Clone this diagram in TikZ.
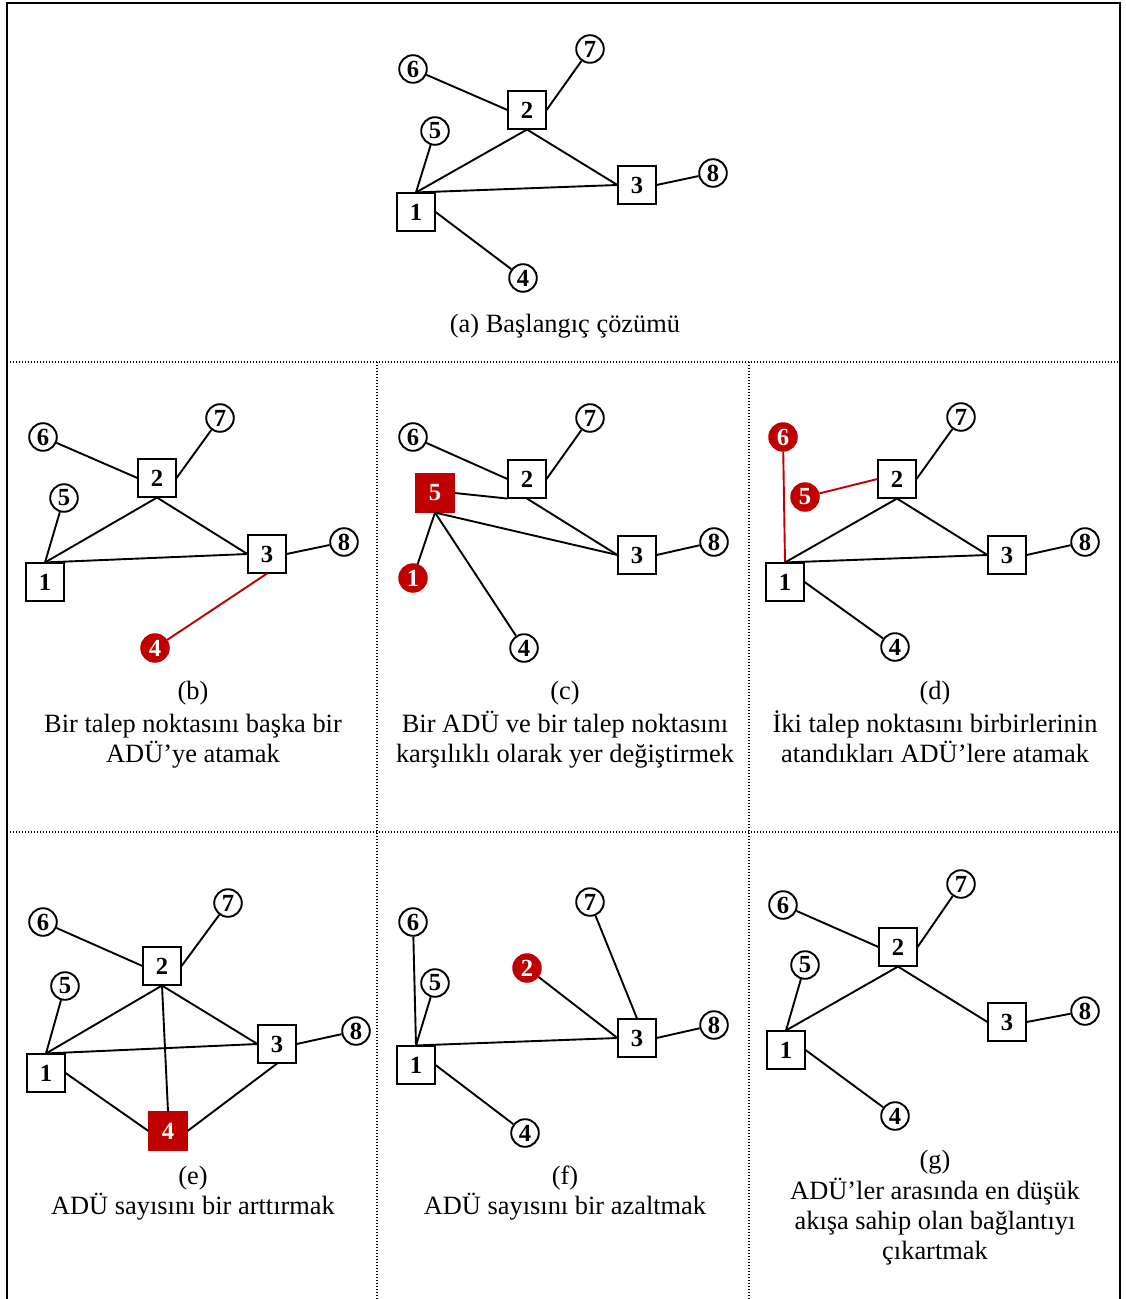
\documentclass[tikz,border=0pt]{standalone}
\usepackage{fontspec}
\setmainfont{Liberation Serif}
\definecolor{adured}{HTML}{C00000}
\begin{document}
\begin{tikzpicture}[x=0.5pt,y=-0.5pt,
  numfont/.style={font=\fontsize{12.3pt}{14pt}\selectfont\bfseries},
  dn/.style={circle, draw, line width=0.95pt, fill=white, minimum size=13.8pt, inner sep=0pt, numfont},
  dnred/.style={circle, draw=adured, line width=0.95pt, fill=adured, text=white, minimum size=13.8pt, inner sep=0pt, numfont},
  fac/.style={rectangle, draw, line width=0.95pt, fill=white, minimum size=18.6pt, inner sep=0pt, numfont},
  facred/.style={rectangle, draw=adured, line width=0.95pt, fill=adured, text=white, minimum size=18.6pt, inner sep=0pt, numfont},
  link/.style={line width=0.95pt},
  redlink/.style={line width=0.95pt, draw=adured},
  frameline/.style={line width=1.2pt},
  divider/.style={line width=0.7pt, dash pattern=on 0.7pt off 0.8pt},
  caption/.style={font=\fontsize{13.2pt}{15pt}\selectfont, inner sep=0pt, text height=0.72em, text depth=0.22em}
]
\useasboundingbox (0,0) rectangle (1125,1299);

% outer frame and panel dividers
\draw[frameline] (7,1299) -- (7,3) -- (1120,3) -- (1120,1299);
\draw[divider] (7,362) -- (1120,362);
\draw[divider] (7,832) -- (1120,832);
\draw[divider] (377,362) -- (377,1299);
\draw[divider] (749,362) -- (749,1299);

% ---------- (a) initial solution ----------
\node[fac] (a1) at (416,212) {1};
\node[fac] (a2) at (527,110) {2};
\node[fac] (a3) at (637,185) {3};
\node[dn]  (a4) at (523,278) {4};
\node[dn]  (a5) at (435,131) {5};
\node[dn]  (a6) at (413,69)  {6};
\node[dn]  (a7) at (590,49)  {7};
\node[dn]  (a8) at (713,173) {8};
\draw[link] (a6) -- (a2.west);
\draw[link] (a7) -- (a2.east);
\draw[link] (a5) -- (a1.north);
\draw[link] (a2.south) -- (a1.north);
\draw[link] (a2.south) -- (a3.west);
\draw[link] (a1.north) -- (a3.west);
\draw[link] (a3.east) -- (a8);
\draw[link] (a1.east) -- (a4);
\node[caption] (capa) at (565,327) {(a) Başlangıç çözümü};

% ---------- (b) ----------
\node[fac]   (b1) at (45,582)  {1};
\node[fac]   (b2) at (157,478) {2};
\node[fac]   (b3) at (267,554) {3};
\node[dnred] (b4) at (155,648) {4};
\node[dn]    (b5) at (64,498)  {5};
\node[dn]    (b6) at (43,437)  {6};
\node[dn]    (b7) at (220,418) {7};
\node[dn]    (b8) at (344,542) {8};
\draw[link] (b6) -- (b2.west);
\draw[link] (b7) -- (b2.east);
\draw[link] (b5) -- (b1.north);
\draw[link] (b2.south) -- (b1.north);
\draw[link] (b2.south) -- (b3.west);
\draw[link] (b1.north) -- (b3.west);
\draw[link] (b3.east) -- (b8);
\draw[redlink] (b3.south) -- (b4);
\node[caption] (capb1) at (193,694) {(b)};
\node[caption] (capb2) at (193,727) {Bir talep noktasını başka bir};
\node[caption] (capb3) at (193,757) {ADÜ’ye atamak};

% ---------- (c) ----------
\node[dnred]  (c1) at (413,578) {1};
\node[fac]    (c2) at (527,479) {2};
\node[fac]    (c3) at (637,555) {3};
\node[dn]     (c4) at (524,648) {4};
\node[facred] (c5) at (435,493) {5};
\node[dn]     (c6) at (413,437) {6};
\node[dn]     (c7) at (590,418) {7};
\node[dn]     (c8) at (714,542) {8};
\draw[link] (c6) -- (c2.west);
\draw[link] (c7) -- (c2.east);
\draw[link] (c5.east) -- (c2.south west);
\draw[link] (c2.south) -- (c3.west);
\draw[link] (c5.south) -- (c3.west);
\draw[link] (c5.south) -- (c1);
\draw[link] (c5.south) -- (c4);
\draw[link] (c3.east) -- (c8);
\node[caption] (capc1) at (565,694) {(c)};
\node[caption] (capc2) at (565,727) {Bir ADÜ ve bir talep noktasını};
\node[caption] (capc3) at (565,757) {karşılıklı olarak yer değiştirmek};

% ---------- (d) ----------
\node[fac]   (d1) at (785,582)  {1};
\node[fac]   (d2) at (897,479)  {2};
\node[fac]   (d3) at (1007,555) {3};
\node[dn]    (d4) at (895,647)  {4};
\node[dnred] (d5) at (805,497)  {5};
\node[dnred] (d6) at (783,437)  {6};
\node[dn]    (d7) at (961,417)  {7};
\node[dn]    (d8) at (1085,542) {8};
\draw[redlink] (d6) -- (d1.north);
\draw[redlink] (d5) -- (d2.west);
\draw[link] (d7) -- (d2.east);
\draw[link] (d2.south) -- (d1.north);
\draw[link] (d2.south) -- (d3.west);
\draw[link] (d1.north) -- (d3.west);
\draw[link] (d3.east) -- (d8);
\draw[link] (d1.east) -- (d4);
\node[caption] (capd1) at (935,694) {(d)};
\node[caption] (capd2) at (935,727) {İki talep noktasını birbirlerinin};
\node[caption] (capd3) at (935,757) {atandıkları ADÜ’lere atamak};

% ---------- (e) ----------
\node[fac]    (e1) at (46,1073)  {1};
\node[fac]    (e2) at (162,966)  {2};
\node[fac]    (e3) at (277,1044) {3};
\node[facred] (e4) at (168,1131) {4};
\node[dn]     (e5) at (65,986)   {5};
\node[dn]     (e6) at (43,922)   {6};
\node[dn]     (e7) at (228,903)  {7};
\node[dn]     (e8) at (356,1031) {8};
\draw[link] (e6) -- (e2.west);
\draw[link] (e7) -- (e2.east);
\draw[link] (e5) -- (e1.north);
\draw[link] (e2.south) -- (e1.north);
\draw[link] (e2.south) -- (e3.west);
\draw[link] (e1.north) -- (e3.west);
\draw[link] (e3.east) -- (e8);
\draw[link] (e2.south) -- (e4.north);
\draw[link] (e1.east) -- (e4.west);
\draw[link] (e3.south) -- (e4.east);
\node[caption] (cape1) at (193,1179) {(e)};
\node[caption] (cape2) at (193,1209) {ADÜ sayısını bir arttırmak};

% ---------- (f) ----------
\node[fac]   (f1) at (416,1065) {1};
\node[dnred] (f2) at (527,968)  {2};
\node[fac]   (f3) at (637,1038) {3};
\node[dn]    (f4) at (525,1133) {4};
\node[dn]    (f5) at (435,983)  {5};
\node[dn]    (f6) at (413,922)  {6};
\node[dn]    (f7) at (590,902)  {7};
\node[dn]    (f8) at (714,1025) {8};
\draw[link] (f6) -- (f1.north);
\draw[link] (f5) -- (f1.north);
\draw[link] (f2) -- (f3.west);
\draw[link] (f7) -- (f3.north);
\draw[link] (f1.north) -- (f3.west);
\draw[link] (f3.east) -- (f8);
\draw[link] (f1.east) -- (f4);
\node[caption] (capf1) at (565,1179) {(f)};
\node[caption] (capf2) at (565,1209) {ADÜ sayısını bir azaltmak};

% ---------- (g) ----------
\node[fac] (g1) at (786,1050)  {1};
\node[fac] (g2) at (898,947)   {2};
\node[fac] (g3) at (1007,1022) {3};
\node[dn]  (g4) at (895,1116)  {4};
\node[dn]  (g5) at (805,965)   {5};
\node[dn]  (g6) at (783,905)   {6};
\node[dn]  (g7) at (961,884)   {7};
\node[dn]  (g8) at (1085,1011) {8};
\draw[link] (g6) -- (g2.west);
\draw[link] (g7) -- (g2.east);
\draw[link] (g5) -- (g1.north);
\draw[link] (g2.south) -- (g1.north);
\draw[link] (g2.south) -- (g3.west);
\draw[link] (g3.east) -- (g8);
\draw[link] (g1.east) -- (g4);
\node[caption] (capg1) at (935,1163) {(g)};
\node[caption] (capg2) at (935,1194) {ADÜ’ler arasında en düşük};
\node[caption] (capg3) at (935,1224) {akışa sahip olan bağlantıyı};
\node[caption] (capg4) at (935,1254) {çıkartmak};
\end{tikzpicture}
\end{document}
